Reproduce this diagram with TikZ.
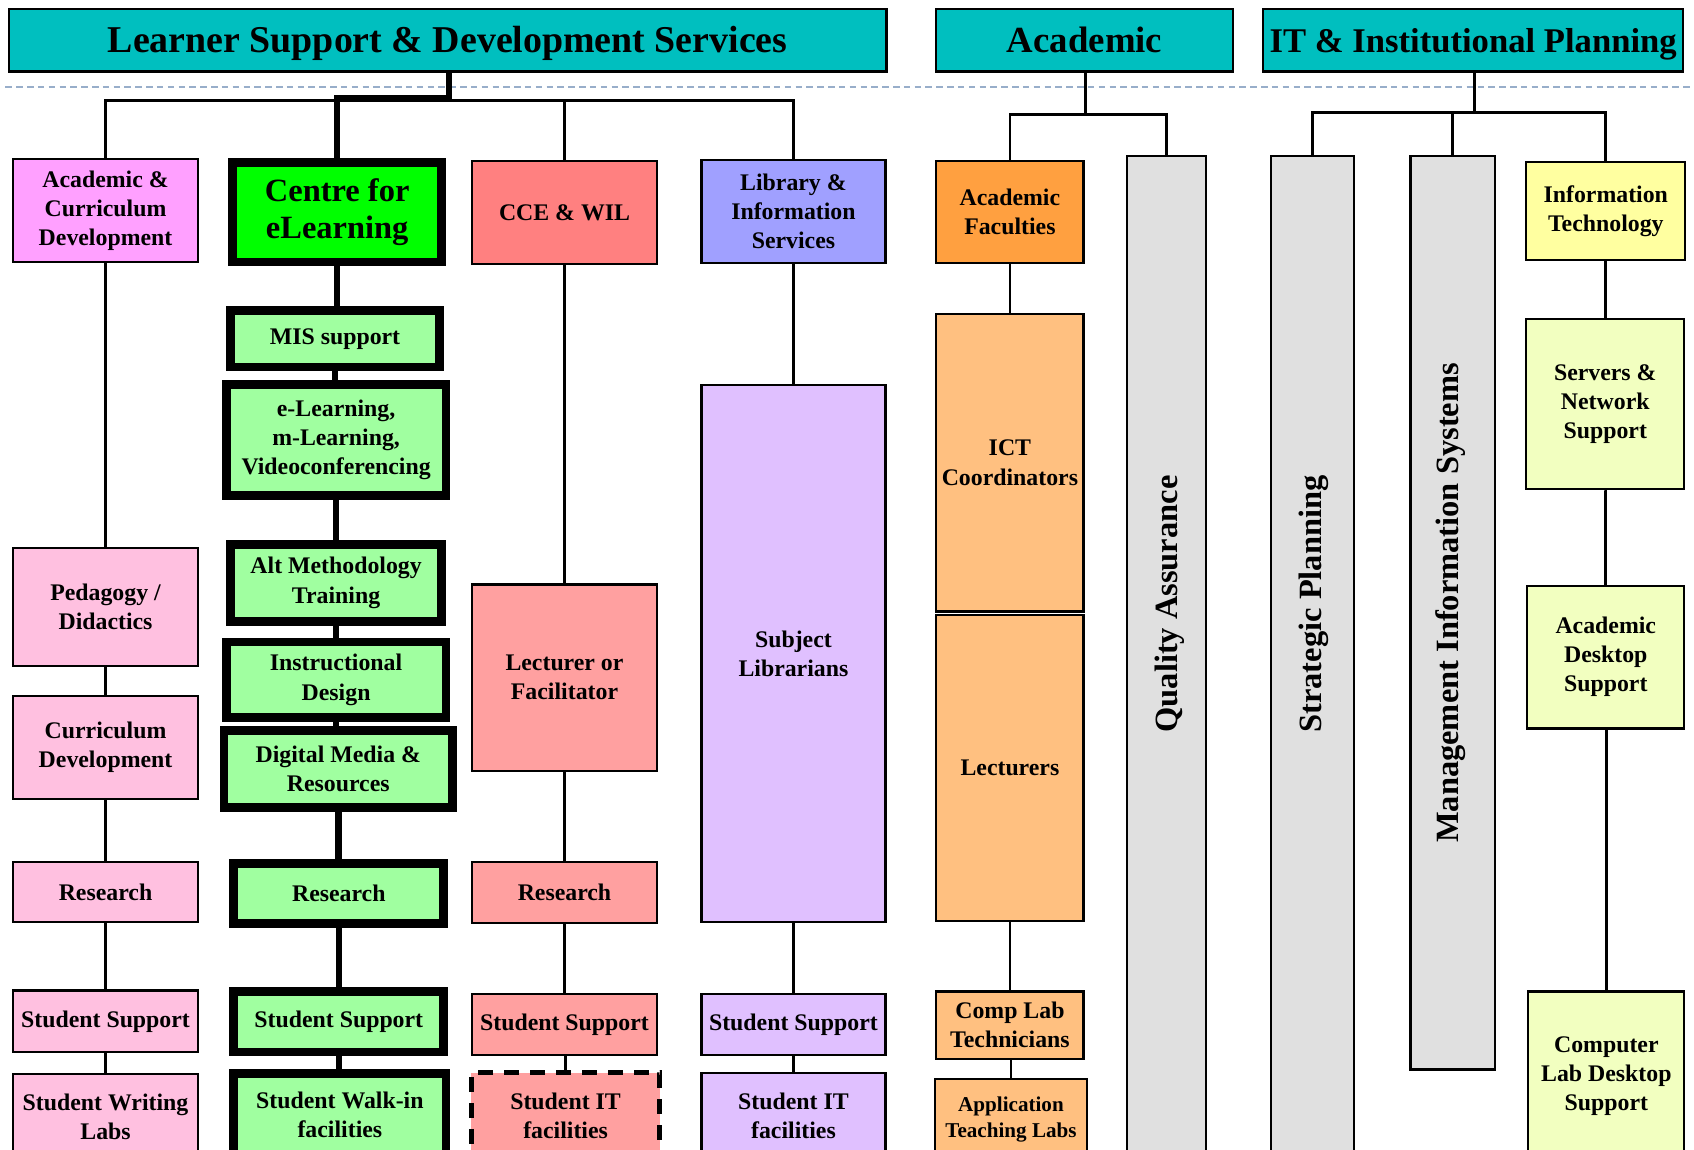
\documentclass[tikz,border=0pt]{standalone}
\usepackage{fontspec}
\setmainfont{Liberation Serif}
\newcommand\fsz[2]{\fontsize{#1}{#2}\selectfont\bfseries}
\definecolor{cTeal}{HTML}{00BFBF}
\definecolor{cMag}{HTML}{FFA0FF}
\definecolor{cPink}{HTML}{FFC0E0}
\definecolor{cGreen}{HTML}{00FF00}
\definecolor{cLGreen}{HTML}{A0FFA0}
\definecolor{cSalmon}{HTML}{FF8080}
\definecolor{cLSalmon}{HTML}{FFA0A0}
\definecolor{cPeri}{HTML}{A0A0FF}
\definecolor{cLav}{HTML}{E0C0FF}
\definecolor{cOrange}{HTML}{FFA040}
\definecolor{cLOrange}{HTML}{FFC080}
\definecolor{cGray}{HTML}{E0E0E0}
\definecolor{cYellow}{HTML}{FFFFA0}
\definecolor{cLYellow}{HTML}{F2FFC0}
\definecolor{cDash}{HTML}{98AECA}
\tikzset{
  bx/.style={draw=black, line width=2pt, inner sep=0pt, align=center, font=\fsz{22}{27}},
  thk/.style={bx, line width=8pt, fill=cLGreen},
  hdr/.style={bx, fill=cTeal, minimum height=58pt, text height=23pt, text depth=0pt},
  bar/.style={bx, fill=cGray},
  vtext/.style={rotate=90, inner sep=0pt, font=\fsz{30}{34}},
  conn/.style={line width=2.5pt},
  thkconn/.style={line width=6pt},
}
\begin{document}
\begin{tikzpicture}[x=1pt, y=-1pt]
\useasboundingbox (0,0) rectangle (1565,1062);
\clip (0,0) rectangle (1565,1062);
\fill[white] (0,0) rectangle (1565,1062);
% dashed separator
\draw[cDash, line width=2pt, dash pattern=on 6pt off 4pt] (5,80) -- (1565,80);

% headers
\node[hdr, minimum width=811pt, font=\fsz{35}{40}] (hL) at (413.5,37) {Learner Support \& Development Services};
\node[hdr, minimum width=274pt, font=\fsz{34}{40}] (hA) at (1002,37) {Academic};
\node[hdr, minimum width=388pt, font=\fsz{32}{40}] (hI) at (1361,37) {IT \& Institutional Planning};

% column 1
\node[bx, fill=cMag, minimum width=171pt, minimum height=95pt] (a1) at (97.5,194.5) {Academic \&\\Curriculum\\Development};
\node[bx, fill=cPink, minimum width=171pt, minimum height=109pt] (a2) at (97.5,560.5) {Pedagogy /\\Didactics};
\node[bx, fill=cPink, minimum width=171pt, minimum height=95pt] (a3) at (97.5,690.5) {Curriculum\\Development};
\node[bx, fill=cPink, minimum width=171pt, minimum height=56pt] (a4) at (97.5,824) {Research};
\node[bx, fill=cPink, minimum width=171pt, minimum height=57pt] (a5) at (97.5,943.5) {Student Support};
\node[bx, fill=cPink, minimum width=171pt, minimum height=78pt] (a6) at (97.5,1031.5) {Student Writing\\Labs};

% column 2
\node[thk, fill=cGreen, minimum width=193pt, minimum height=92pt, font=\fsz{30}{35}] (c1) at (311.5,196) {Centre for\\eLearning};
\node[thk, minimum width=193pt, minimum height=52pt] (c2) at (309.5,313) {MIS support};
\node[thk, minimum width=203pt, minimum height=103pt] (c3) at (310.5,406.5) {e-Learning,\\m-Learning,\\Videoconferencing};
\node[thk, minimum width=195pt, minimum height=71pt] (c4) at (310.5,538.5) {Alt Methodology\\Training};
\node[thk, minimum width=203pt, minimum height=70pt] (c5) at (310.5,628) {Instructional\\Design};
\node[thk, minimum width=211pt, minimum height=71pt] (c6) at (312.5,710.5) {Digital Media \&\\Resources};
\node[thk, minimum width=194pt, minimum height=55pt] (c7) at (313,825.5) {Research};
\node[thk, minimum width=194pt, minimum height=56pt] (c8) at (313,944) {Student Support};
\node[thk, minimum width=196pt, minimum height=76pt] (c9) at (314,1030) {Student Walk-in\\facilities};

% column 3
\node[bx, fill=cSalmon, minimum width=171pt, minimum height=95pt] (d1) at (521.5,196.5) {CCE \& WIL};
\node[bx, fill=cLSalmon, minimum width=171pt, minimum height=172pt] (d2) at (521.5,626) {Lecturer or\\Facilitator};
\node[bx, fill=cLSalmon, minimum width=171pt, minimum height=57pt] (d3) at (521.5,824.5) {Research};
\node[bx, fill=cLSalmon, minimum width=171pt, minimum height=57pt] (d4) at (521.5,946.5) {Student Support};
\node[bx, fill=cLSalmon, line width=5pt, dash pattern=on 14pt off 10pt, minimum width=174pt, minimum height=80pt] (d5) at (522.5,1031) {Student IT\\facilities};

% column 4
\node[bx, fill=cPeri, minimum width=170pt, minimum height=95pt] (e1) at (733,195.5) {Library \&\\Information\\Services};
\node[bx, fill=cLav, minimum width=170pt, minimum height=496pt] (e2) at (733,604) {Subject\\Librarians};
\node[bx, fill=cLav, minimum width=170pt, minimum height=57pt] (e3) at (733,946.5) {Student Support};
\node[bx, fill=cLav, minimum width=170pt, minimum height=80pt] (e4) at (733,1031) {Student IT\\facilities};

% academic
\node[bx, fill=cOrange, minimum width=136pt, minimum height=94pt] (f1) at (933,196) {Academic\\Faculties};
\node[bx, fill=cLOrange, minimum width=136pt, minimum height=275pt] (f2) at (933,427.5) {ICT\\Coordinators};
\node[bx, fill=cLOrange, minimum width=136pt, minimum height=283pt] (f3) at (933,709.5) {Lecturers};
\node[bx, fill=cLOrange, minimum width=136pt, minimum height=62pt] (f4) at (933,947) {Comp Lab\\Technicians};
\node[bx, fill=cLOrange, minimum width=140pt, minimum height=74pt, font=\fsz{19.5}{24}] (f5) at (934,1034) {Application\\Teaching Labs};
\node[bar, minimum width=73pt, minimum height=944pt] (g1) at (1077.5,616) {};
\node[vtext] (t1) at (1081,558) {Quality Assurance};

% IT & planning
\node[bar, minimum width=77pt, minimum height=944pt] (g2) at (1212.5,616) {};
\node[vtext] (t2) at (1214,558) {Strategic Planning};
\node[bar, minimum width=78pt, minimum height=844pt] (g3) at (1342,566) {};
\node[vtext] (t3) at (1340,557) {Management Information Systems};
\node[bx, fill=cYellow, minimum width=147pt, minimum height=90pt] (i1) at (1483.5,195) {Information\\Technology};
\node[bx, fill=cLYellow, minimum width=146pt, minimum height=157pt] (i2) at (1483,373.5) {Servers \&\\Network\\Support};
\node[bx, fill=cLYellow, minimum width=145pt, minimum height=132pt] (i3) at (1483.5,607) {Academic\\Desktop\\Support};
\node[bx, fill=cLYellow, minimum width=144pt, minimum height=156pt] (i4) at (1484,994) {Computer\\Lab Desktop\\Support};

% LSDS connectors
\coordinate (bL) at (415,93);
\draw[conn] (a1.north) -- (a1.north |- bL) -- (e1.north |- bL) -- (e1.north);
\draw[conn] (d1.north) -- (d1.north |- bL);
\draw[thkconn] (hL.south -| bL) -- ([yshift=2pt]bL) -- ([yshift=2pt]c1.north |- bL) -- (c1.north);

% academic connectors
\coordinate (bA) at (1003,106);
\draw[conn] (hA.south -| bA) -- (bA);
\draw[conn] (f1.north) -- (f1.north |- bA) -- (g1.north |- bA) -- (g1.north);

% IT connectors
\coordinate (bI) at (1362,104);
\draw[conn] (hI.south -| bI) -- (bI);
\draw[conn] (g2.north) -- (g2.north |- bI) -- (i1.north |- bI) -- (i1.north);
\draw[conn] (g3.north) -- (g3.north |- bI);

% column chains
\foreach \u/\v in {a1/a2,a2/a3,a3/a4,a4/a5,a5/a6,d1/d2,d2/d3,d3/d4,d4/d5,e1/e2,e2/e3,e3/e4,f1/f2,f3/f4,f4/f5,i1/i2,i2/i3,i3/i4}
  \draw[conn] (\u.south) -- (\u.south -| \v.north) -- (\v.north);
\foreach \u/\v in {c1/c2,c2/c3,c3/c4,c4/c5,c5/c6,c6/c7,c7/c8,c8/c9}
  \draw[thkconn] (\u.south) -- (\v.north -| \u.south);
\end{tikzpicture}
\end{document}
